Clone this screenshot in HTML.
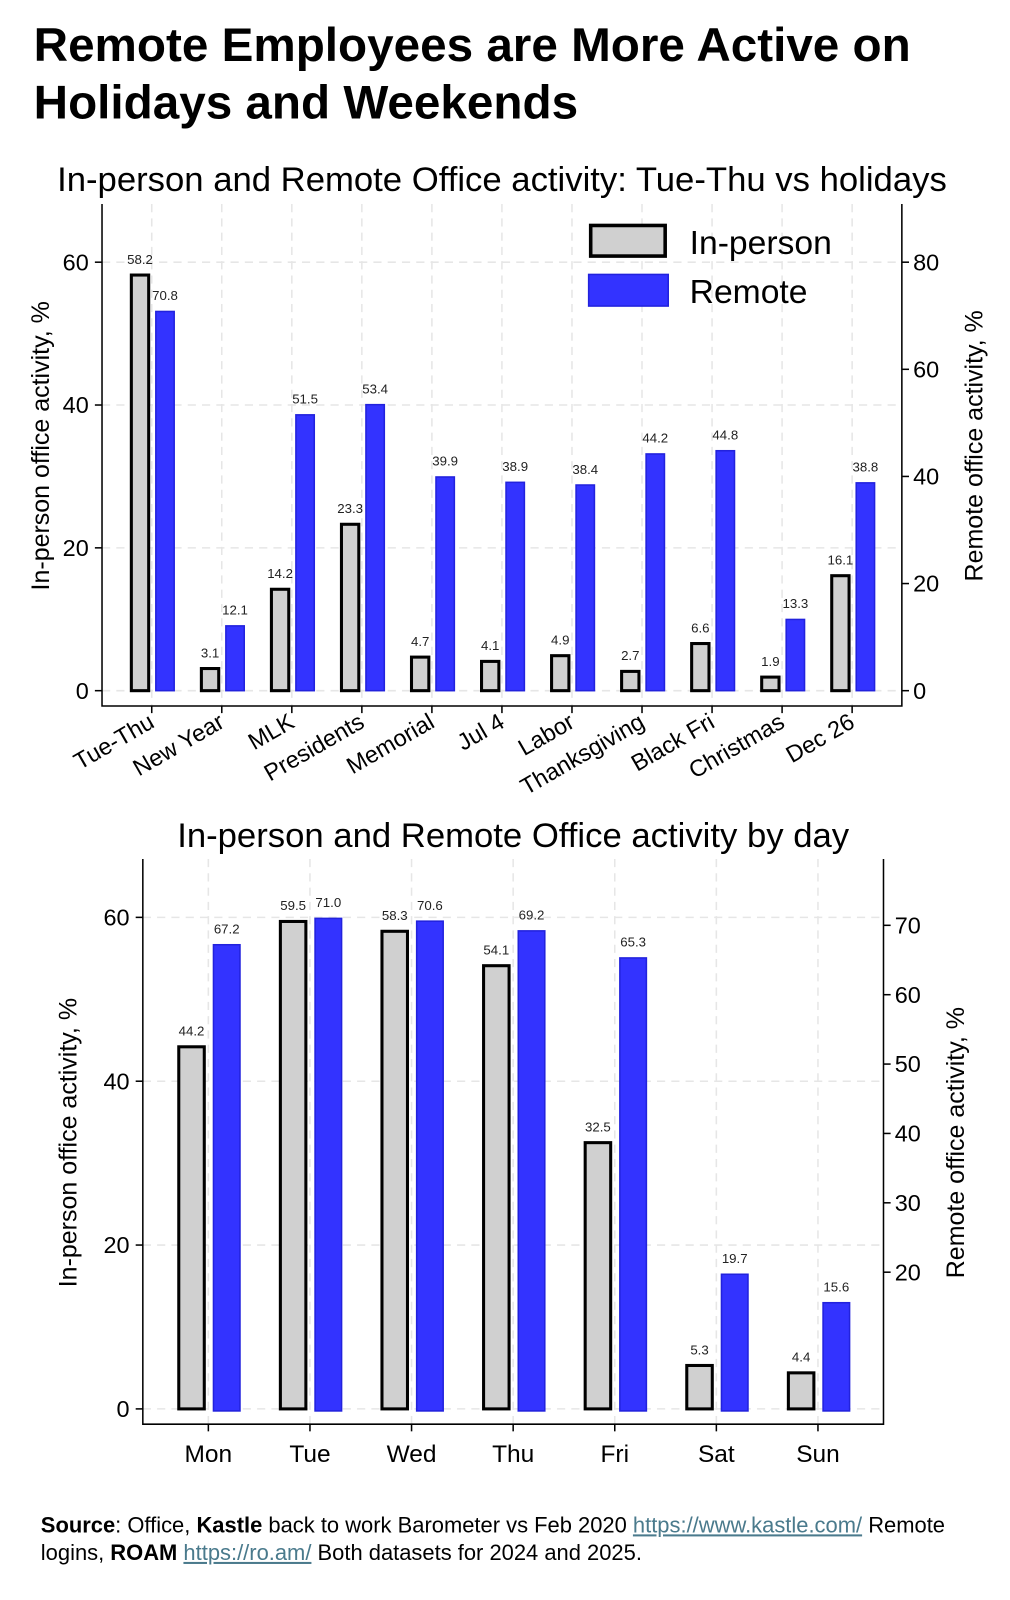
<!DOCTYPE html>
<html><head><meta charset="utf-8">
<style>
body{margin:0;background:#fff;font-family:"Liberation Sans",Arial,sans-serif;}
#outer{width:1010px;height:1600px;overflow:hidden;position:relative;}
#wrap{position:absolute;left:0;top:0;width:990px;height:1568px;transform:scale(1.0202);transform-origin:0 0;}
h1{position:absolute;left:33px;top:16px;margin:0;font-size:46.7px;line-height:56px;font-weight:bold;color:#000;white-space:nowrap;}
#src{position:absolute;left:40px;top:1482px;font-size:21.5px;line-height:27px;color:#000;width:900px;}
#src a{color:#4a7a8c;text-decoration:underline;}
svg{position:absolute;left:0;top:0;}
</style></head>
<body>
<div id="outer">
<div id="wrap">
<h1>Remote Employees are More Active on<br>Holidays and Weekends</h1>
<svg id="chart" width="990" height="1568"></svg>
<div id="src"><b>Source</b>: Office, <b>Kastle</b> back to work Barometer vs Feb 2020 <a>https://www.kastle.com/</a> Remote logins, <b>ROAM</b> <a>https://ro.am/</a> Both datasets for 2024 and 2025.</div>
</div>
</div>
<script>
const holCats = ["Tue-Thu","New Year","MLK","Presidents","Memorial","Jul 4","Labor","Thanksgiving","Black Fri","Christmas","Dec 26"];
const holInPerson = [58.2,3.1,14.2,23.3,4.7,4.1,4.9,2.7,6.6,1.9,16.1];
const holRemote = [70.8,12.1,51.5,53.4,39.9,38.9,38.4,44.2,44.8,13.3,38.8];
const holLeftTicks = [0,20,40,60];
const holRightTicks = [0,20,40,60,80];
const dayCats = ["Mon","Tue","Wed","Thu","Fri","Sat","Sun"];
const dayInPerson = [44.2,59.5,58.3,54.1,32.5,5.3,4.4];
const dayRemote = [67.2,71.0,70.6,69.2,65.3,19.7,15.6];
const dayLeftTicks = [0,20,40,60];
const dayRightTicks = [20,30,40,50,60,70];

const NS="http://www.w3.org/2000/svg";
const svg=document.getElementById('chart');
function mk(tag,attrs,parent,text){const e=document.createElementNS(NS,tag);for(const k in attrs)e.setAttribute(k,attrs[k]);if(text!==undefined)e.textContent=text;(parent||svg).appendChild(e);return e;}

function drawChart(o){
  const g=mk('g',{});
  
  
  const n=o.cats.length;
  const s=(o.R-o.L)/(n-1+2*o.m);
  const xc=i=>o.L+s*(o.m+i);
  const yl=v=>o.zeroL-v*o.kL;
  const yr=v=>o.zeroR-v*o.kR;
  o.leftTicks.forEach(t=>{const l=mk('line',{x1:o.L,x2:o.R,y1:yl(t),y2:yl(t),stroke:'#e6e6e6','stroke-width':1.5,'stroke-dasharray':'8,6'},g);});
  o.cats.forEach((c,i)=>{const l=mk('line',{x1:xc(i),x2:xc(i),y1:o.T,y2:o.B,stroke:'#e6e6e6','stroke-width':1.5,'stroke-dasharray':'8,6'},g);});
  const ax=mk('path',{d:`M${o.L},${o.T}V${o.B}H${o.R}V${o.T}`,fill:'none',stroke:'#000','stroke-width':1.5},g);
  
  o.leftTicks.forEach(t=>{mk('line',{x1:o.L-7,x2:o.L,y1:yl(t),y2:yl(t),stroke:'#000','stroke-width':1.5},g);
    const tx=mk('text',{x:o.L-13,y:yl(t)+8,'text-anchor':'end','font-size':23,fill:'#000'},g,t);});
  o.rightTicks.forEach(t=>{mk('line',{x1:o.R,x2:o.R+7,y1:yr(t),y2:yr(t),stroke:'#000','stroke-width':1.5},g);
    const tx=mk('text',{x:o.R+11,y:yr(t)+8,'text-anchor':'start','font-size':23,fill:'#000'},g,t);});
  o.cats.forEach((c,i)=>{
    const x=xc(i);
    mk('line',{x1:x,x2:x,y1:o.B,y2:o.B+7,stroke:'#000','stroke-width':1.5},g);
    const v1=o.inp[i],v2=o.rem[i];
    const b1=mk('rect',{x:x+o.b1a,y:yl(v1),width:o.b1w,height:yl(0)-yl(v1),fill:'#d0d0d0',stroke:'#000','stroke-width':3},g);
    
    const b2=mk('rect',{x:x+o.b2a,y:yr(v2),width:o.b2w,height:yr(0)-yr(v2),fill:'#3333ff',stroke:'#2222dd','stroke-width':1.5},g);
    
    const l1=mk('text',{x:x+o.b1a+o.b1w/2,y:yl(v1)-11,'text-anchor':'middle','font-size':13,fill:'#222'},g,v1.toFixed(1));
    
    const l2=mk('text',{x:x+o.b2a+o.b2w/2,y:yr(v2)-11,'text-anchor':'middle','font-size':13,fill:'#222'},g,v2.toFixed(1));
    
    let xl;
    if(o.rot){xl=mk('text',{x:x+4,y:o.B+20,'text-anchor':'end','font-size':23,fill:'#000',transform:`rotate(-30 ${x+4} ${o.B+20})`},g,c);}
    else{xl=mk('text',{x:x,y:o.B+37,'text-anchor':'middle','font-size':24,fill:'#000'},g,c);}
    
  });
  const t=mk('text',{x:o.tx,y:o.ty,'text-anchor':'middle','font-size':34,fill:'#000'},g,o.title);
  
  const yt=mk('text',{x:o.ylx,y:o.yty,'text-anchor':'middle','font-size':24.5,fill:'#000',transform:`rotate(-90 ${o.ylx} ${o.yty})`},g,'In-person office activity, %');
  
  const yt2=mk('text',{x:o.yrx,y:o.yty,'text-anchor':'middle','font-size':24.5,fill:'#000',transform:`rotate(-90 ${o.yrx} ${o.yty})`},g,'Remote office activity, %');
  
  return g;
}
drawChart({name:'holiday-chart',cats:holCats,inp:holInPerson,rem:holRemote,leftTicks:holLeftTicks,rightTicks:holRightTicks,
  L:100,R:884,T:200,B:692,m:0.71,zeroL:677,kL:7,zeroR:677,kR:5.25,b1a:-20,b1w:17,b2a:4,b2w:18,rot:true,
  title:'In-person and Remote Office activity: Tue-Thu vs holidays',tx:492,ty:187,ylx:48,yrx:963,yty:437});
drawChart({name:'day-chart',cats:dayCats,inp:dayInPerson,rem:dayRemote,leftTicks:dayLeftTicks,rightTicks:dayRightTicks,
  L:140,R:866,T:842,B:1396,m:0.645,zeroL:1381,kL:8.03,zeroR:1383,kR:6.8,b1a:-29,b1w:25,b2a:5,b2w:26,rot:false,
  title:'In-person and Remote Office activity by day',tx:503,ty:830,ylx:75,yrx:945,yty:1120});
const lg=mk('g',{});


const r1=mk('rect',{x:579,y:221,width:73,height:30,fill:'#d0d0d0',stroke:'#000','stroke-width':3.5},lg);

const t1=mk('text',{x:676,y:249,'font-size':33,fill:'#000'},lg,'In-person');

const r2=mk('rect',{x:577,y:269,width:78,height:31,fill:'#3333ff',stroke:'#2222dd','stroke-width':1.5},lg);

const t2=mk('text',{x:676,y:297,'font-size':33,fill:'#000'},lg,'Remote');

</script>
</body></html>
